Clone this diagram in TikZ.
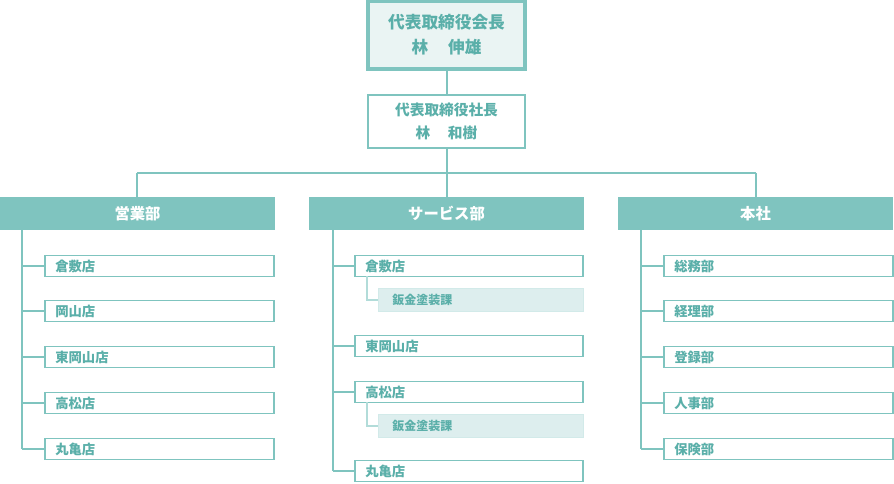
\documentclass[tikz,border=0pt]{standalone}
\usepackage{fontspec}
\setmainfont{Noto Sans CJK JP}
\definecolor{teal1}{HTML}{7FC4BF}
\definecolor{lt}{HTML}{EAF4F3}
\definecolor{sub}{HTML}{DDEEEE}
\definecolor{tx}{HTML}{5AAFA9}
\begin{document}
\begin{tikzpicture}[x=0.75pt,y=-0.75pt,
  ln/.style={draw=teal1,line width=1pt},
  item/.style={draw=teal1,line width=1pt,fill=white},
  itxt/.style={anchor=west,text=tx,font=\fontsize{10}{12}\selectfont\bfseries,inner sep=0pt},
  stxt/.style={anchor=west,text=tx,font=\fontsize{9}{11}\selectfont\bfseries,inner sep=0pt},
  htxt/.style={text=white,font=\fontsize{11.5}{14}\selectfont\bfseries}]
\useasboundingbox (0,0) rectangle (894,484);
% top
\draw[ln] (447,70) -- (447,94);
\draw[ln] (447,149) -- (447,197);
\draw[ln] (137,173) -- (756,173);
\draw[ln] (137,173) -- (137,197);
\draw[ln] (756,173) -- (756,197);
\filldraw[draw=teal1,fill=lt,line width=2.4pt] (368,1.2) rectangle (525,69);
\node[text=tx,font=\fontsize{12.5}{19}\selectfont\bfseries,align=center] (ceo) at (446.5,35) {代表取締役会長\\林\hspace{1.2em}伸雄};
\filldraw[draw=teal1,fill=white,line width=1.8pt] (368,95) rectangle (525,148);
\node[text=tx,font=\fontsize{11}{17}\selectfont\bfseries,align=center] (pres) at (446.5,121.5) {代表取締役社長\\林\hspace{1.2em}和樹};
% headers
\foreach \x/\t/\n in {0/営業部/d1,309/サービス部/d2,618/本社/d3}{
  \fill[teal1] (\x,197) rectangle (\x+275,230);
  \node[htxt] (\n) at (\x+137.5,213.5) {\t};
}
% column 1
\draw[ln] (22,230) -- (22,449);
\foreach \y/\t/\n in {266/倉敷店/a1,311/岡山店/a2,357/東岡山店/a3,403/高松店/a4,449/丸亀店/a5}{
  \draw[ln] (22,\y) -- (45,\y);
  \draw[item] (45,\y-10.5) rectangle (274,\y+10.5);
  \node[itxt] (\n) at (55,\y) {\t};
}
% column 3
\draw[ln] (641,230) -- (641,449);
\foreach \y/\t/\n in {266/総務部/c1,311/経理部/c2,357/登録部/c3,403/人事部/c4,449/保険部/c5}{
  \draw[ln] (641,\y) -- (664,\y);
  \draw[item] (664,\y-10.5) rectangle (893,\y+10.5);
  \node[itxt] (\n) at (674,\y) {\t};
}
% column 2
\draw[ln] (333,230) -- (333,471);
\foreach \y/\t/\n in {266/倉敷店/b1,346/東岡山店/b2,392/高松店/b3,471/丸亀店/b4}{
  \draw[ln] (333,\y) -- (355,\y);
  \draw[item] (355,\y-10.5) rectangle (583,\y+10.5);
  \node[itxt] (\n) at (365,\y) {\t};
}
\foreach \y/\n in {300/s1,426/s2}{
  \draw[draw=teal1!60,line width=0.8pt] (367,\y-23.5) -- (367,\y) -- (378,\y);
  \filldraw[draw=teal1!35,fill=sub,line width=0.6pt] (378,\y-11.5) rectangle (583,\y+11.5);
  \node[stxt] (\n) at (392,\y) {鈑金塗装課};
}
\end{tikzpicture}
\end{document}
